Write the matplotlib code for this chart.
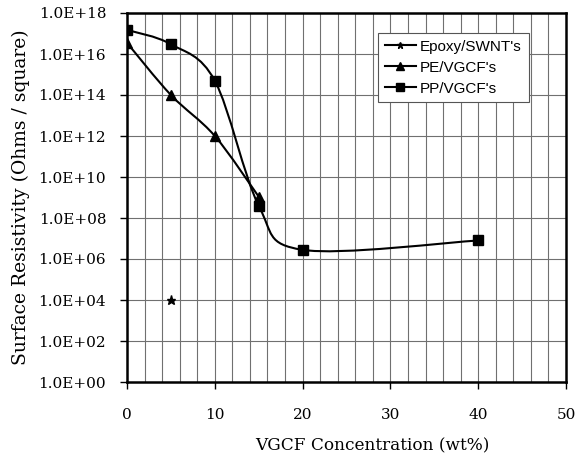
import numpy as np
import matplotlib
matplotlib.use("Agg")
import matplotlib.pyplot as plt
from matplotlib.path import Path
from matplotlib.patches import PathPatch
from matplotlib.lines import Line2D

# data
epoxy_x = [5]
epoxy_y = [1.0e4]
pe_x = [0, 5, 10, 15]
pe_y = [3.5e16, 1.0e14, 1.0e12, 1.1e9]
pp_x = [0, 5, 10, 15, 20, 40]
pp_y = [1.5e17, 3.0e16, 5.0e14, 4.0e8, 2.8e6, 8.0e6]

y_ticks = [10.0 ** k for k in range(0, 19, 2)]
y_labels = ["1.0E+%02d" % k for k in range(0, 19, 2)]
x_ticks = [0, 10, 20, 30, 40, 50]

serif = "DejaVu Serif"


# smoothed line like the spreadsheet one (bezier in x / log y space)
def smooth_path(xs, ys):
    p = np.column_stack([xs, np.log10(ys)])
    verts = [p[0]]
    codes = [Path.MOVETO]
    n = len(p)
    for i in range(n - 1):
        p0 = p[i - 1] if i > 0 else p[i]
        p3 = p[i + 2] if i + 2 < n else p[i + 1]
        c1 = p[i] + (p[i + 1] - p0) / 6.0
        c2 = p[i + 1] - (p3 - p[i]) / 6.0
        verts += [c1, c2, p[i + 1]]
        codes += [Path.CURVE4] * 3
    verts = np.array(verts)
    verts[:, 1] = 10.0 ** verts[:, 1]
    return Path(verts, codes)


fig = plt.figure(figsize=(5.78, 4.65), dpi=100)
ax = fig.add_axes([127 / 578, 1 - 382 / 465, 439 / 578, 369 / 465])
ax.set_yscale("log")
ax.set_xlim(0, 50)
ax.set_ylim(1, 1e18)

# grid
for gx in range(2, 50, 2):
    ax.axvline(gx, color="#707070", lw=0.8, zorder=0)
for gy in y_ticks[1:-1]:
    ax.axhline(gy, color="#707070", lw=0.8, zorder=0)

ax.add_patch(PathPatch(smooth_path(pe_x, pe_y), fill=False, lw=1.5, color="black", zorder=3))
ax.add_patch(PathPatch(smooth_path(pp_x, pp_y), fill=False, lw=1.5, color="black", zorder=3))
ax.plot(pe_x, pe_y, ls="none", marker="^", ms=6.5, color="black", zorder=4)
ax.plot(pp_x, pp_y, ls="none", marker="s", ms=6.5, color="black", zorder=4)
ax.plot(epoxy_x, epoxy_y, ls="none", marker="*", ms=6.5, color="black", zorder=4)

ax.set_yticks(y_ticks)
ax.set_yticklabels(y_labels, fontfamily=serif, fontsize=11)
ax.yaxis.set_minor_locator(matplotlib.ticker.NullLocator())
ax.set_xticks(x_ticks)
ax.set_xticklabels([str(v) for v in x_ticks], fontfamily=serif, fontsize=11)
ax.tick_params(axis="y", length=5, width=1, pad=10, direction="out")
ax.tick_params(axis="x", length=5, width=1, pad=14, direction="out")

ax.set_ylabel("Surface Resistivity (Ohms / square)", fontfamily=serif, fontsize=13.5, labelpad=6)
ax.set_xlabel("VGCF Concentration (wt%)", fontfamily=serif, fontsize=12.2)
ax.xaxis.set_label_coords(0.56, -0.15)

for s in ax.spines.values():
    s.set_linewidth(1.8)

handles = [
    Line2D([], [], color="black", lw=1.5, marker="*", ms=5),
    Line2D([], [], color="black", lw=1.5, marker="^", ms=6),
    Line2D([], [], color="black", lw=1.5, marker="s", ms=6),
]
leg = ax.legend(handles, ["Epoxy/SWNT's", "PE/VGCF's", "PP/VGCF's"],
                loc="upper left", bbox_to_anchor=(0.572, 0.946), borderaxespad=0,
                prop={"family": "Liberation Sans", "size": 11},
                frameon=True, fancybox=False, framealpha=1, edgecolor="#555555",
                handlelength=2.0, handletextpad=0.3, borderpad=0.45, labelspacing=0.45)
leg.get_frame().set_linewidth(0.8)

fig.savefig("out.png", dpi=100)
